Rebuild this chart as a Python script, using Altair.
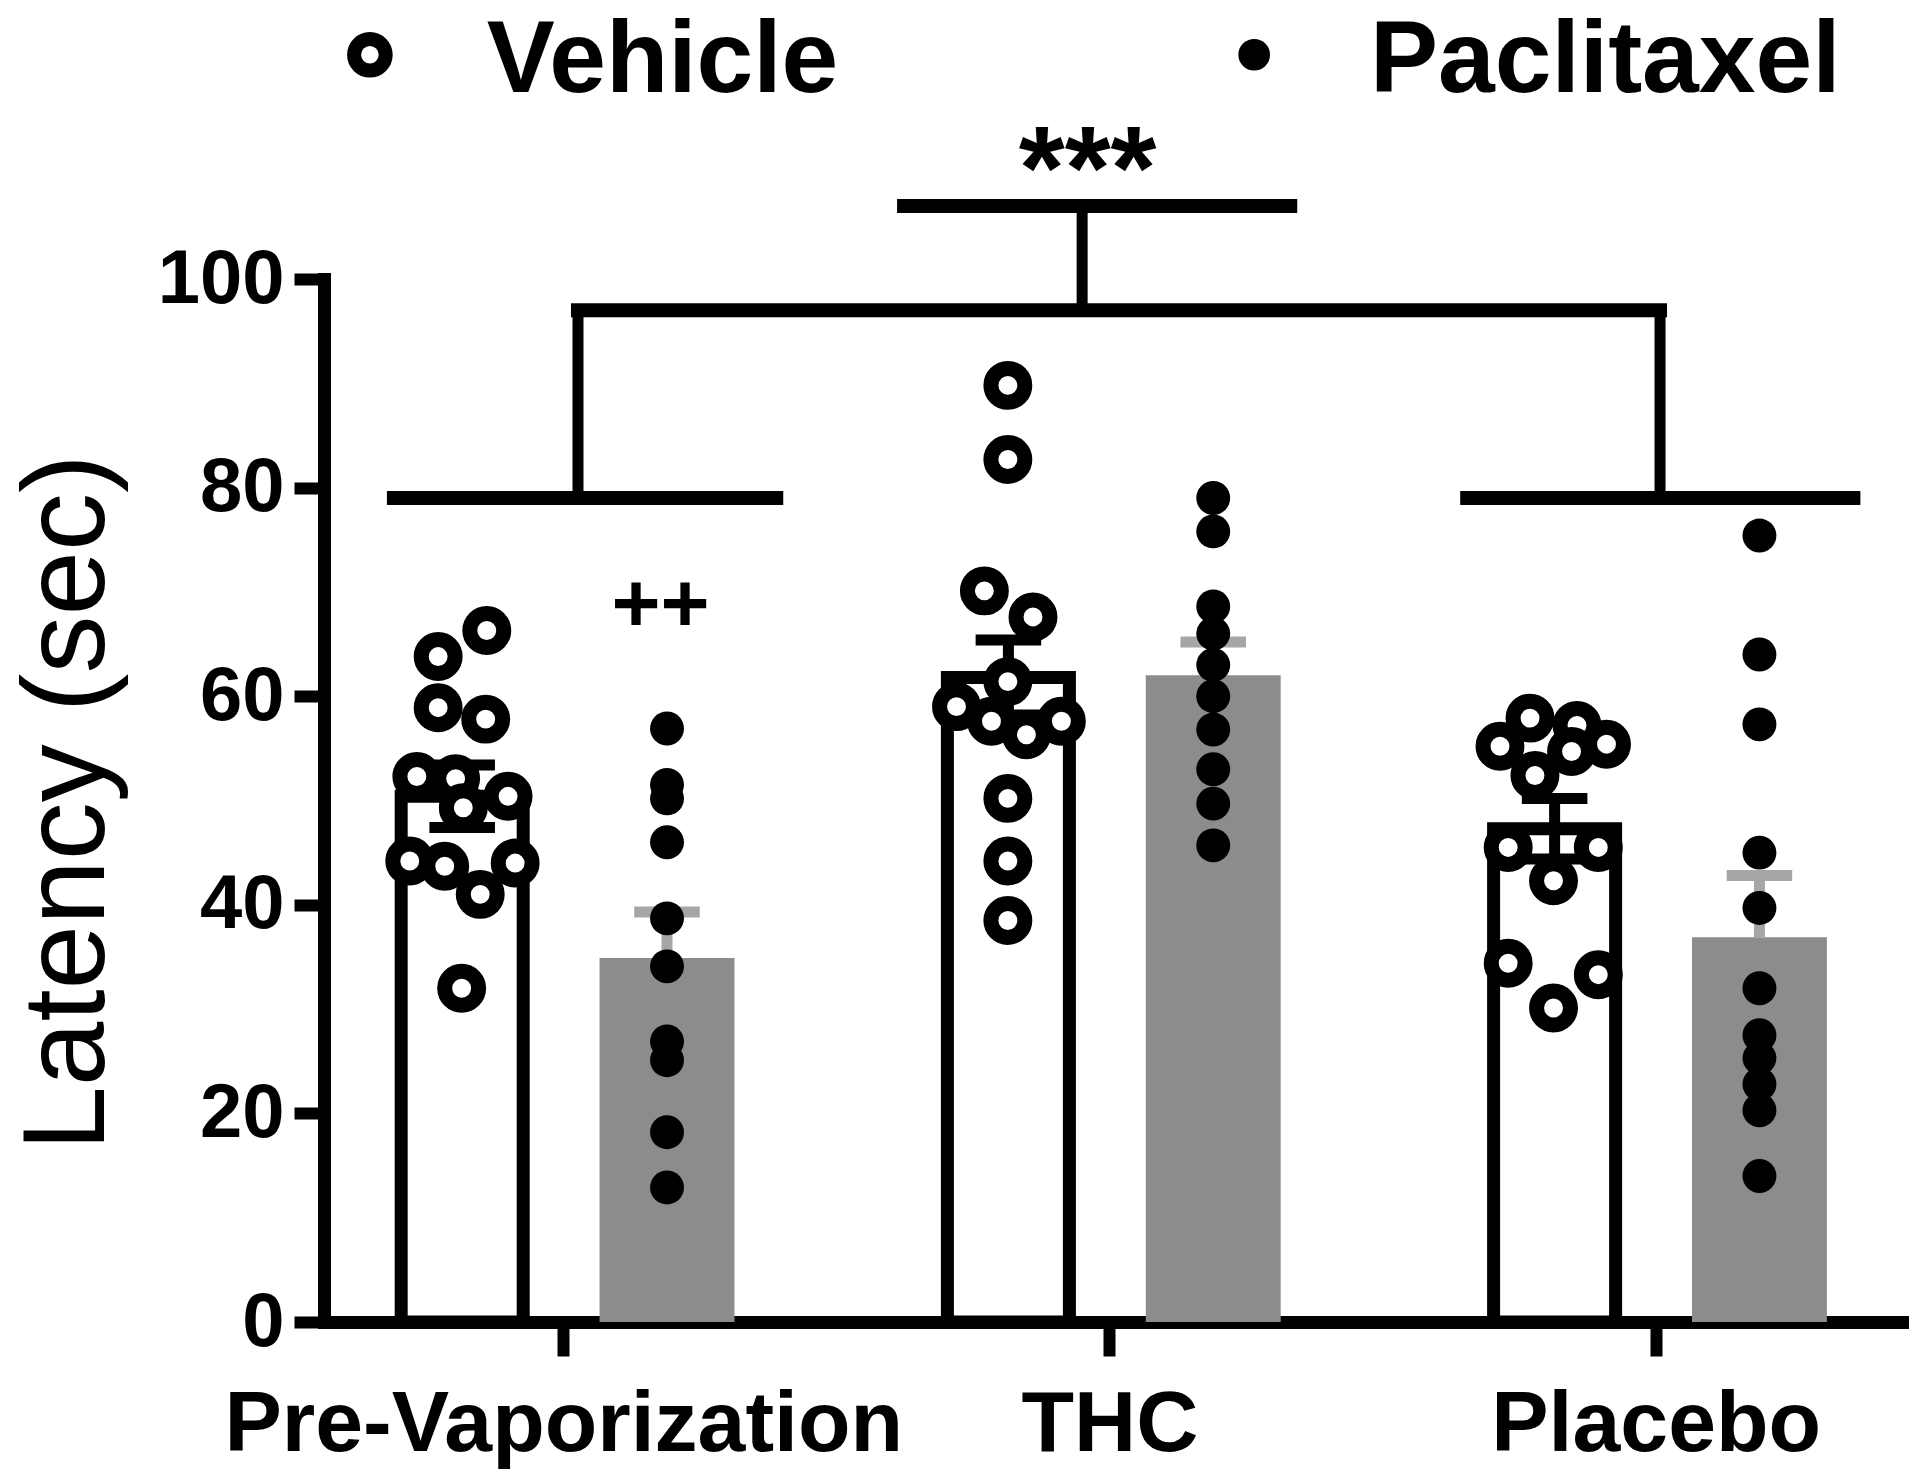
import altair as alt
import pandas as pd

# ---------------- data ----------------
groups = ["Pre-Vaporization", "THC", "Placebo"]
group_pos = [0, 1, 2]
series = ["Vehicle", "Paclitaxel"]

vehicle_mean = [50.4, 61.8, 47.3]
vehicle_sem = [3.0, 3.6, 2.9]
paclitaxel_mean = [34.9, 62.0, 36.9]
paclitaxel_sem = [4.4, 3.2, 5.9]

pre_vehicle = [66.3, 63.8, 58.9, 57.8, 52.3, 52.1, 50.4, 49.3, 44.2, 43.7, 44.0, 41.0, 32.0]
pre_vehicle_dx = [-0.140, -0.229, -0.229, -0.142, -0.268, -0.197, -0.101, -0.183, -0.281, -0.217, -0.088, -0.152, -0.186]
thc_vehicle = [89.8, 82.7, 70.1, 67.6, 61.4, 59.0, 57.6, 56.3, 57.6, 50.2, 44.2, 38.5]
thc_vehicle_dx = [-0.186, -0.186, -0.229, -0.140, -0.186, -0.280, -0.216, -0.152, -0.088, -0.186, -0.186, -0.186]
placebo_vehicle = [57.9, 57.2, 55.2, 55.4, 54.7, 52.4, 45.5, 45.5, 42.3, 34.4, 33.3, 30.1]
placebo_vehicle_dx = [-0.230, -0.144, -0.285, -0.090, -0.154, -0.221, -0.270, -0.105, -0.187, -0.270, -0.105, -0.187]

pre_paclitaxel = [56.9, 51.5, 50.2, 46.0, 38.7, 34.1, 26.9, 25.1, 18.2, 12.9]
thc_paclitaxel = [79.0, 75.8, 68.6, 66.0, 63.0, 60.0, 56.8, 53.0, 49.7, 45.7]
placebo_paclitaxel = [75.4, 64.0, 57.3, 45.0, 39.7, 32.0, 27.5, 25.3, 22.8, 20.3, 14.0]

y_ticks = [0, 20, 40, 60, 80, 100]

# annotation levels (y values) and spans (x, in group units)
bracket_low = 79.0
bracket_mid = 97.0
bracket_top = 107.0
left_span = [-0.31, 0.39]
right_span = [1.655, 2.362]
top_span = [0.624, 1.331]
left_stem = 0.027
right_stem = 2.008
center_stem = 0.95
sig_main = "***"
sig_pre = "++"

# ---------------- styling ----------------
FONT = "Liberation Sans"
GRAY = "#8c8c8c"
ERR_GRAY = "#a6a6a6"
VEH_OFF = -0.185
PAC_OFF = 0.19
VEH_HALF = 0.1117
PAC_HALF = 0.1235
CAP_HALF = 0.06
LW = 13

xs = alt.Scale(domain=[-0.438, 2.451], nice=False, zero=False)
ys = alt.Scale(domain=[0, 100], nice=False, zero=True)

label_expr = "[" + ",".join("'" + g + "'" for g in groups) + "][datum.value]"
x_axis = alt.Axis(
    values=group_pos, labelExpr=label_expr, title=None, grid=False,
    domainColor="black", domainWidth=LW, domainCap="square",
    tickColor="black", tickWidth=12, tickSize=34,
    labelFont=FONT, labelFontSize=86, labelFontWeight="bold", labelColor="black",
    labelPadding=26, labelAngle=0, labelLimit=0, labelOverlap=False,
)
y_axis = alt.Axis(
    values=y_ticks, title="Latency (sec)", grid=False,
    domainColor="black", domainWidth=LW, domainCap="square",
    tickColor="black", tickWidth=12, tickSize=30,
    labelFont=FONT, labelFontSize=76, labelFontWeight="bold", labelColor="black",
    labelPadding=10, labelLimit=0,
    titleFont=FONT, titleFontSize=116, titleFontWeight="normal", titleColor="black",
    titleAngle=270, titleAlign="center", titleBaseline="middle",
    titleX=-256, titleY=523, titleLimit=0,
)


def X(f):
    return alt.X(f, type="quantitative", scale=xs, axis=x_axis)


def Y(f):
    return alt.Y(f, type="quantitative", scale=ys, axis=y_axis)


# ---------------- tables ----------------
bars = pd.DataFrame({
    "group": groups, "pos": group_pos,
    "vmean": vehicle_mean, "vsem": vehicle_sem,
    "pmean": paclitaxel_mean, "psem": paclitaxel_sem,
})
bars["vx"] = bars["pos"] + VEH_OFF
bars["vx0"] = bars["vx"] - VEH_HALF
bars["vx1"] = bars["vx"] + VEH_HALF
bars["px"] = bars["pos"] + PAC_OFF
bars["px0"] = bars["px"] - PAC_HALF
bars["px1"] = bars["px"] + PAC_HALF
bars["vhi"] = bars["vmean"] + bars["vsem"]
bars["vlo"] = bars["vmean"] - bars["vsem"]
bars["phi"] = bars["pmean"] + bars["psem"]
bars["vc0"] = bars["vx"] - CAP_HALF
bars["vc1"] = bars["vx"] + CAP_HALF
bars["pc0"] = bars["px"] - CAP_HALF
bars["pc1"] = bars["px"] + CAP_HALF
bars["zero"] = 0

veh_rows = []
for p, vals, dxs in zip(group_pos, [pre_vehicle, thc_vehicle, placebo_vehicle],
                        [pre_vehicle_dx, thc_vehicle_dx, placebo_vehicle_dx]):
    for v, d in zip(vals, dxs):
        veh_rows.append({"x": p + d, "y": v})
veh_pts = pd.DataFrame(veh_rows)

pac_rows = []
for p, vals in zip(group_pos, [pre_paclitaxel, thc_paclitaxel, placebo_paclitaxel]):
    for v in vals:
        pac_rows.append({"x": p + PAC_OFF, "y": v})
pac_pts = pd.DataFrame(pac_rows)

hseg = pd.DataFrame({
    "x": [left_span[0], right_span[0], left_stem, top_span[0]],
    "x2": [left_span[1], right_span[1], right_stem, top_span[1]],
    "y": [bracket_low, bracket_low, bracket_mid, bracket_top],
})
vseg = pd.DataFrame({
    "x": [left_stem, right_stem, center_stem],
    "y": [bracket_low, bracket_low, bracket_mid],
    "y2": [bracket_mid, bracket_mid, bracket_top],
})

main_txt = pd.DataFrame({"x": [center_stem + 0.01], "y": [bracket_top - 0.3], "t": [sig_main]})
pre_txt = pd.DataFrame({"x": [group_pos[0] + PAC_OFF - 0.012], "y": [66.2], "t": [sig_pre]})

leg_open = pd.DataFrame({"x": [-0.354], "y": [121.5]})
leg_fill = pd.DataFrame({"x": [1.265], "y": [121.5]})
leg_txt = pd.DataFrame({"x": [-0.140, 1.477], "y": [117.9, 117.9], "t": series})

# ---------------- layers ----------------
base = alt.Chart(bars)

gray_bars = base.mark_bar(color=GRAY).encode(
    x=X("px0"), x2="px1", y=Y("pmean"), y2="zero")
veh_bars = base.mark_bar(fill="white", stroke="black", strokeWidth=LW, strokeJoin="miter").encode(
    x=X("vx0"), x2="vx1", y=Y("vmean"), y2="zero")

veh_err = base.mark_rule(color="black", strokeWidth=11).encode(
    x=X("vx"), y=Y("vlo"), y2="vhi")
veh_cap_hi = base.mark_rule(color="black", strokeWidth=11).encode(
    x=X("vc0"), x2="vc1", y=Y("vhi"))
veh_cap_lo = base.mark_rule(color="black", strokeWidth=11).encode(
    x=X("vc0"), x2="vc1", y=Y("vlo"))
pac_err = base.mark_rule(color=ERR_GRAY, strokeWidth=11).encode(
    x=X("px"), y=Y("pmean"), y2="phi")
pac_cap = base.mark_rule(color=ERR_GRAY, strokeWidth=11).encode(
    x=X("pc0"), x2="pc1", y=Y("phi"))

veh_points = alt.Chart(veh_pts).mark_point(
    shape="circle", filled=True, fill="white", stroke="black", strokeWidth=15,
    size=1150, opacity=1, fillOpacity=1, strokeOpacity=1).encode(x=X("x"), y=Y("y"))
pac_points = alt.Chart(pac_pts).mark_point(
    shape="circle", filled=True, fill="black", size=1150, opacity=1, strokeWidth=0).encode(
    x=X("x"), y=Y("y"))

h_lines = alt.Chart(hseg).mark_rule(color="black", strokeWidth=14, strokeCap="square").encode(
    x=X("x"), x2="x2", y=Y("y"))
v_lines = alt.Chart(vseg).mark_rule(color="black", strokeWidth=11).encode(
    x=X("x"), y=Y("y"), y2="y2")

main_sig = alt.Chart(main_txt).mark_text(
    font=FONT, fontSize=118, fontWeight="bold", color="black", align="center",
    baseline="alphabetic").encode(x=X("x"), y=Y("y"), text="t:N")
pre_sig = alt.Chart(pre_txt).mark_text(
    font=FONT, fontSize=84, fontWeight="bold", color="black", align="center",
    baseline="alphabetic").encode(x=X("x"), y=Y("y"), text="t:N")

leg_o = alt.Chart(leg_open).mark_point(
    shape="circle", filled=True, fill="white", stroke="black", strokeWidth=14,
    size=1000, opacity=1).encode(x=X("x"), y=Y("y"))
leg_f = alt.Chart(leg_fill).mark_point(
    shape="circle", filled=True, fill="black", size=1000, opacity=1, strokeWidth=0).encode(
    x=X("x"), y=Y("y"))
leg_t = alt.Chart(leg_txt).mark_text(
    font=FONT, fontSize=102, fontWeight="bold", color="black", align="left",
    baseline="alphabetic").encode(x=X("x"), y=Y("y"), text="t:N")

chart = alt.layer(
    gray_bars, veh_bars, veh_err, veh_cap_hi, veh_cap_lo, pac_err, pac_cap,
    veh_points, pac_points, h_lines, v_lines, main_sig, pre_sig, leg_o, leg_f, leg_t,
).properties(
    width=1578, height=1043,
    autosize=alt.AutoSizeParams(type="none"),
    padding={"left": 316, "top": 271, "right": 10, "bottom": 150},
    background="white",
).configure_view(strokeWidth=0)

chart.save("out.html", embed_options={"renderer": "svg", "actions": False})
